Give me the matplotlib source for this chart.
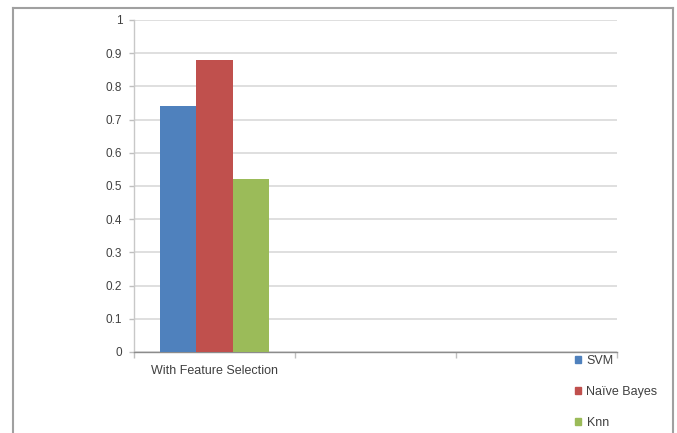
import matplotlib
matplotlib.use("Agg")
import matplotlib.pyplot as plt
from matplotlib.lines import Line2D
from matplotlib.patches import Patch
import numpy as np

# data
categories = ["With Feature Selection", "", ""]
series_names = ["SVM", "Naïve Bayes", "Knn"]
svm_vals = [0.74]
nb_vals = [0.88]
knn_vals = [0.52]
y_ticks = [0, 0.1, 0.2, 0.3, 0.4, 0.5, 0.6, 0.7, 0.8, 0.9, 1]

colors = ["#4F81BD", "#C0504D", "#9BBB59"]

plt.rcParams['font.family'] = ['Liberation Sans', 'DejaVu Sans']

fig = plt.figure(figsize=(6.77, 4.33), dpi=100)
ax = fig.add_axes([134/677, 1 - 352/433, (617-134)/677, (352-20)/433])

bar_w = 0.224
x = np.arange(len(svm_vals))
for i, vals in enumerate([svm_vals, nb_vals, knn_vals]):
    ax.bar(x + (i - 1) * bar_w, vals, width=bar_w, color=colors[i],
           label=series_names[i], zorder=3)

ax.set_xlim(-0.5, len(categories) - 0.5)
ax.set_ylim(0, 1)
ax.set_yticks(y_ticks)
ax.set_yticklabels([f"{t:g}" for t in y_ticks])
ax.yaxis.grid(True, color="#d9d9d9", linewidth=1.2, zorder=0)

# category boundaries as major ticks, labels on minor ticks at centers
ax.set_xticks(np.arange(len(categories) + 1) - 0.5)
ax.set_xticklabels([])
ax.set_xticks(np.arange(len(categories)), minor=True)
ax.set_xticklabels(categories, minor=True)
ax.tick_params(axis="x", which="major", length=4, color="#bfbfbf", width=1)
ax.tick_params(axis="x", which="minor", length=0, pad=9, labelsize=9, labelcolor="#404040")
ax.tick_params(axis="y", length=3.5, color="#bfbfbf", width=1, labelsize=8.5,
               labelcolor="#404040", pad=5)

for s in ["top", "right"]:
    ax.spines[s].set_visible(False)
ax.spines["left"].set_color("#c8c8c8")
ax.spines["bottom"].set_color("#8c8c8c")
ax.spines["left"].set_linewidth(1)
ax.spines["bottom"].set_linewidth(1)

handles = [Patch(color=c) for c in colors]
fig.legend(handles, series_names, loc="upper left",
           bbox_to_anchor=(564/677, 1 - 344/433), frameon=False,
           fontsize=9, handlelength=0.45, handleheight=0.45, handletextpad=0.45,
           labelspacing=1.52, labelcolor="#404040")

# outer chart border (top, left, right)
bc = "#a0a0a0"
fig.add_artist(Line2D([13/677, 13/677], [0, 1 - 8/433], color=bc, lw=1.5))
fig.add_artist(Line2D([673/677, 673/677], [0, 1 - 8/433], color=bc, lw=1.5))
fig.add_artist(Line2D([13/677, 673/677], [1 - 8/433, 1 - 8/433], color=bc, lw=1.5))

fig.savefig("out.png", dpi=100)
